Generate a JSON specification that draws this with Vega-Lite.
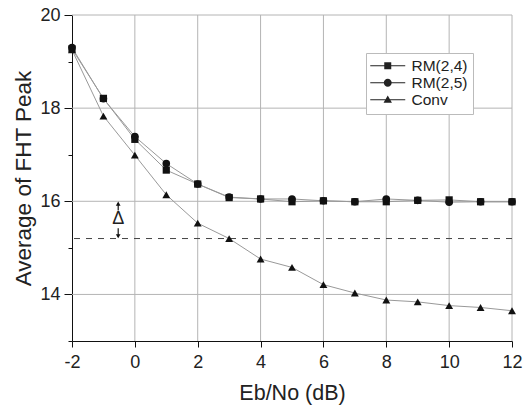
{
  "$schema": "https://vega.github.io/schema/vega-lite/v6.json",
  "width": 440,
  "height": 326,
  "autosize": {"type": "none"},
  "padding": {"left": 72, "top": 15, "right": 11, "bottom": 64},
  "background": "white",
  "config": {
    "view": {"stroke": null},
    "font": "Liberation Sans",
    "axis": {
      "domainColor": "#111",
      "tickColor": "#111",
      "labelColor": "#222",
      "titleColor": "#222",
      "labelFont": "Liberation Sans",
      "titleFont": "Liberation Sans",
      "labelFontSize": 18,
      "titleFontWeight": "normal",
      "grid": false
    }
  },
  "datasets": {
    "series": [
      {"s": "RM(2,4)", "x": -2, "y": 19.27},
      {"s": "RM(2,4)", "x": -1, "y": 18.21},
      {"s": "RM(2,4)", "x": 0, "y": 17.33},
      {"s": "RM(2,4)", "x": 1, "y": 16.67},
      {"s": "RM(2,4)", "x": 2, "y": 16.37},
      {"s": "RM(2,4)", "x": 3, "y": 16.08},
      {"s": "RM(2,4)", "x": 4, "y": 16.05},
      {"s": "RM(2,4)", "x": 5, "y": 15.99},
      {"s": "RM(2,4)", "x": 6, "y": 16.01},
      {"s": "RM(2,4)", "x": 7, "y": 15.99},
      {"s": "RM(2,4)", "x": 8, "y": 15.99},
      {"s": "RM(2,4)", "x": 9, "y": 16.02},
      {"s": "RM(2,4)", "x": 10, "y": 16.03},
      {"s": "RM(2,4)", "x": 11, "y": 15.99},
      {"s": "RM(2,4)", "x": 12, "y": 15.99},
      {"s": "RM(2,5)", "x": -2, "y": 19.3},
      {"s": "RM(2,5)", "x": -1, "y": 18.2},
      {"s": "RM(2,5)", "x": 0, "y": 17.39},
      {"s": "RM(2,5)", "x": 1, "y": 16.81},
      {"s": "RM(2,5)", "x": 2, "y": 16.37},
      {"s": "RM(2,5)", "x": 3, "y": 16.09},
      {"s": "RM(2,5)", "x": 4, "y": 16.05},
      {"s": "RM(2,5)", "x": 5, "y": 16.05},
      {"s": "RM(2,5)", "x": 6, "y": 16.01},
      {"s": "RM(2,5)", "x": 7, "y": 15.99},
      {"s": "RM(2,5)", "x": 8, "y": 16.05},
      {"s": "RM(2,5)", "x": 9, "y": 16.02},
      {"s": "RM(2,5)", "x": 10, "y": 15.98},
      {"s": "RM(2,5)", "x": 11, "y": 15.99},
      {"s": "RM(2,5)", "x": 12, "y": 15.99},
      {"s": "Conv", "x": -2, "y": 19.25},
      {"s": "Conv", "x": -1, "y": 17.83},
      {"s": "Conv", "x": 0, "y": 16.99},
      {"s": "Conv", "x": 1, "y": 16.14},
      {"s": "Conv", "x": 2, "y": 15.53},
      {"s": "Conv", "x": 3, "y": 15.2},
      {"s": "Conv", "x": 4, "y": 14.76},
      {"s": "Conv", "x": 5, "y": 14.58},
      {"s": "Conv", "x": 6, "y": 14.21},
      {"s": "Conv", "x": 7, "y": 14.03},
      {"s": "Conv", "x": 8, "y": 13.88},
      {"s": "Conv", "x": 9, "y": 13.84},
      {"s": "Conv", "x": 10, "y": 13.76},
      {"s": "Conv", "x": 11, "y": 13.72},
      {"s": "Conv", "x": 12, "y": 13.65}
    ],
    "legendrows": [
      {"s": "RM(2,4)", "xo": 100, "y": 16},
      {"s": "RM(2,5)", "xo": 100, "y": 16},
      {"s": "Conv", "xo": 100, "y": 16}
    ]
  },
  "layer": [
    {
      "data": {"values": [{"gx": 0}, {"gx": 2}, {"gx": 4}, {"gx": 6}, {"gx": 8}, {"gx": 10}, {"gx": 12}]},
      "mark": {"type": "rule", "color": "#b4b4b4", "strokeWidth": 1},
      "encoding": {
        "x": {
          "field": "gx", "type": "quantitative",
          "scale": {"domain": [-2, 12], "nice": false, "zero": false},
          "axis": {
            "title": "Eb/No (dB)",
            "titleFontSize": 21.5,
            "values": [-2, -1, 0, 1, 2, 3, 4, 5, 6, 7, 8, 9, 10, 11, 12],
            "labelExpr": "datum.value % 2 === 0 ? '' + datum.value : ''",
            "tickSize": {"condition": {"test": "datum.value % 2 === 0", "value": 6}, "value": 4},
            "labelPadding": 6,
            "titlePadding": 11,
            "labelFlush": false
          }
        }
      }
    },
    {
      "data": {"values": [{"gy": 14}, {"gy": 16}, {"gy": 18}, {"gy": 20}]},
      "mark": {"type": "rule", "color": "#b4b4b4", "strokeWidth": 1},
      "encoding": {
        "y": {
          "field": "gy", "type": "quantitative",
          "scale": {"domain": [13, 20], "nice": false, "zero": false},
          "axis": {
            "title": "Average of FHT Peak",
            "titleFontSize": 22.5,
            "values": [13, 14, 15, 16, 17, 18, 19, 20],
            "labelExpr": "datum.value % 2 === 0 && datum.value > 13 ? '' + datum.value : ''",
            "tickSize": {"condition": {"test": "datum.value % 2 === 0", "value": 8}, "value": 4},
            "labelPadding": 4,
            "titlePadding": 4,
            "labelFlush": false
          }
        }
      }
    },
    {
      "data": {"values": [{"y": 15.2}]},
      "mark": {"type": "rule", "color": "#444", "strokeDash": [6, 6], "strokeWidth": 1},
      "encoding": {"y": {"field": "y", "type": "quantitative"}}
    },
    {
      "data": {"name": "series"},
      "mark": {"type": "line", "color": "#999", "strokeWidth": 1},
      "encoding": {
        "x": {"field": "x", "type": "quantitative"},
        "y": {"field": "y", "type": "quantitative"},
        "detail": {"field": "s"}
      }
    },
    {
      "data": {"name": "series"},
      "mark": {"type": "point", "filled": true, "color": "#111", "opacity": 1},
      "encoding": {
        "x": {"field": "x", "type": "quantitative"},
        "y": {"field": "y", "type": "quantitative"},
        "shape": {
          "field": "s", "type": "nominal",
          "scale": {"domain": ["RM(2,4)", "RM(2,5)", "Conv"], "range": ["square", "circle", "triangle-up"]},
          "legend": null
        },
        "size": {
          "field": "s", "type": "nominal",
          "scale": {"domain": ["RM(2,4)", "RM(2,5)", "Conv"], "range": [52, 62, 80]},
          "legend": null
        }
      }
    },
    {
      "data": {"name": "legendrows"},
      "mark": {"type": "point", "filled": true, "opacity": 1, "color": "#222", "clip": true},
      "encoding": {
        "x": {"field": "xo", "type": "quantitative"},
        "y": {"field": "y", "type": "quantitative"},
        "shape": {
          "field": "s", "type": "nominal",
          "scale": {"domain": ["RM(2,4)", "RM(2,5)", "Conv"], "range": [
            "M-3,-0.09H3V0.09H-3ZM-0.6,-0.6H0.6V0.6H-0.6Z",
            "M-3,-0.09H3V0.09H-3ZM0.68,0A0.68,0.68,0,1,1,-0.68,0A0.68,0.68,0,1,1,0.68,0Z",
            "M-3,-0.09H3V0.09H-3ZM0,-0.72L0.72,0.5H-0.72Z"
          ]},
          "legend": {
            "title": null,
            "orient": "none",
            "legendX": 294,
            "legendY": 38,
            "strokeColor": "#bbb",
            "fillColor": "white",
            "padding": 5,
            "labelFontSize": 15.5,
            "labelFont": "Liberation Sans",
            "labelColor": "#222",
            "symbolSize": 136,
            "symbolOffset": 9,
            "symbolFillColor": "#222",
            "symbolOpacity": 1,
            "rowPadding": -2,
            "labelOffset": 16
          }
        }
      }
    },
    {
      "data": {"values": [{"x": -0.53, "y1": 15.8, "y2": 15.96}, {"x": -0.53, "y1": 15.42, "y2": 15.24}]},
      "mark": {"type": "rule", "color": "#111", "strokeWidth": 1.2},
      "encoding": {
        "x": {"field": "x", "type": "quantitative"},
        "y": {"field": "y1", "type": "quantitative"},
        "y2": {"field": "y2"}
      }
    },
    {
      "data": {"values": [{"x": -0.53, "y": 15.95, "d": "up"}, {"x": -0.53, "y": 15.25, "d": "down"}]},
      "mark": {"type": "point", "filled": true, "color": "#111", "opacity": 1, "size": 22},
      "encoding": {
        "x": {"field": "x", "type": "quantitative"},
        "y": {"field": "y", "type": "quantitative"},
        "shape": {"field": "d", "type": "nominal", "scale": {"domain": ["up", "down"], "range": ["triangle-up", "triangle-down"]}, "legend": null}
      }
    },
    {
      "data": {"values": [{"x": -0.53, "y": 15.61, "t": "Δ"}]},
      "mark": {"type": "text", "fontSize": 18, "color": "#222", "font": "Liberation Sans", "baseline": "middle", "align": "center"},
      "encoding": {
        "x": {"field": "x", "type": "quantitative"},
        "y": {"field": "y", "type": "quantitative"},
        "text": {"field": "t"}
      }
    }
  ],
  "resolve": {"scale": {"shape": "independent", "size": "independent"}}
}
